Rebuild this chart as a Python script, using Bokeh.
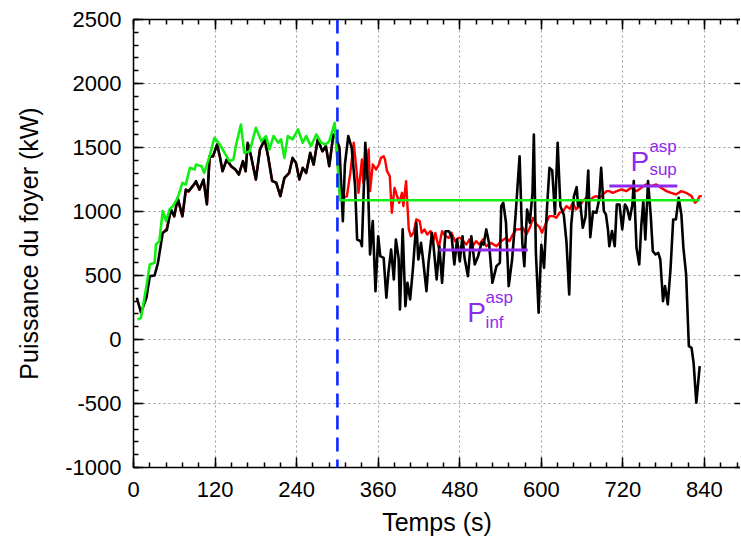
from bokeh.plotting import figure
from bokeh.models import (LinearAxis, SingleIntervalTicker, Span, Label, Range1d,
                          PrintfTickFormatter, CustomJSTickFormatter)
from bokeh.embed import file_html
from bokeh.resources import INLINE

# ---- data ----
black_t = [5, 11, 19, 24, 31, 36, 43, 49, 55, 60, 65, 72, 77, 81, 87, 92, 97, 103, 108, 112,
           117, 123, 127, 131, 137, 144, 150, 155, 161, 165, 168, 173, 180, 186, 193, 198, 204, 210, 216, 222,
           229, 234, 239, 244, 249, 254, 260, 265, 271, 278, 283, 288, 294, 298, 303, 308, 311, 316, 321, 326,
           329, 334, 336, 341, 345, 348, 352, 356, 360, 363, 368, 372, 375, 379, 383, 386, 390, 392, 396, 400,
           403, 407, 411, 416, 419, 423, 426, 431, 434, 439, 441, 446, 450, 454, 459, 464, 468, 472, 476, 480,
           484, 487, 492, 497, 502, 507, 512, 515, 519, 523, 528, 534, 539, 541, 544, 548, 552, 557, 562, 568,
           572, 575, 579, 583, 587, 589, 592, 596, 600, 604, 608, 612, 616, 620, 624, 628, 633, 637, 641, 644,
           648, 652, 654, 657, 661, 665, 669, 672, 676, 681, 685, 688, 692, 695, 698, 700, 704, 708, 711, 715,
           719, 723, 726, 730, 734, 736, 740, 744, 747, 750, 753, 757, 761, 764, 768, 772, 775, 779, 782, 786,
           790, 794, 798, 802, 806, 809, 813, 817, 821, 824, 828, 833]
black_v = [326, 209, 326, 495, 500, 599, 834, 854, 1016, 964, 1107, 964, 1172, 1159, 1198, 1237, 1172, 1250, 1055, 1432,
           1432, 1524, 1432, 1315, 1406, 1354, 1328, 1289, 1393, 1315, 1537, 1432, 1250, 1485, 1563, 1432, 1237, 1224, 1120, 1263,
           1302, 1419, 1380, 1250, 1341, 1302, 1458, 1367, 1563, 1471, 1511, 1354, 1602, 1576, 1498, 925, 1367, 1589, 1498, 1198,
           781, 768, 729, 1537, 1198, 664, 925, 378, 807, 651, 638, 326, 521, 703, 469, 781, 638, 235, 860, 261,
           443, 313, 547, 912, 625, 755, 625, 378, 599, 833, 755, 469, 729, 443, 846, 846, 807, 586, 781, 610,
           807, 638, 495, 807, 586, 651, 755, 742, 860, 755, 443, 573, 599, 1042, 1068, 912, 417, 625, 964, 1432,
           755, 573, 1016, 912, 1146, 1602, 677, 209, 740, 560, 1000, 1341, 1320, 980, 1537, 1042, 975, 760, 352, 900,
           1120, 1190, 1042, 1080, 873, 960, 1320, 800, 1000, 990, 1094, 1341, 1003, 977, 860, 729, 847, 729, 1055, 1055,
           860, 1055, 1029, 938, 1055, 1237, 716, 586, 886, 1081, 782, 1237, 964, 690, 664, 677, 625, 300, 417, 274,
           547, 938, 938, 1107, 977, 716, 508, -52, -65, -182, -494, -208]

red_t = [43, 49, 55, 60, 65, 72, 77, 81, 87, 92, 97, 103, 108, 112, 117, 123, 127, 131, 137, 144,
         150, 155, 161, 165, 168, 173, 180, 186, 193, 198, 204, 210, 216, 222, 229, 234, 239, 244, 249, 254,
         260, 265, 271, 278, 283, 288, 294, 298, 304, 308, 314, 319, 324, 328, 331, 336, 338, 342, 346, 348,
         352, 357, 361, 364, 368, 370, 373, 377, 380, 384, 387, 391, 395, 397, 401, 405, 408, 412, 416, 421,
         424, 428, 432, 437, 441, 444, 449, 454, 459, 464, 468, 473, 478, 482, 485, 490, 494, 499, 504, 509,
         514, 519, 526, 534, 541, 548, 553, 558, 563, 568, 573, 578, 583, 588, 593, 597, 601, 607, 612, 617,
         622, 627, 632, 637, 642, 646, 651, 656, 661, 666, 671, 676, 681, 686, 691, 696, 700, 705, 711, 718,
         725, 732, 740, 747, 754, 762, 769, 776, 784, 791, 798, 806, 813, 821, 826, 829, 833, 836]
red_v = [830, 870, 1010, 960, 1100, 960, 1165, 1155, 1195, 1230, 1170, 1245, 1060, 1425, 1430, 1520, 1430, 1315, 1400, 1350,
         1325, 1290, 1390, 1315, 1530, 1430, 1250, 1480, 1560, 1430, 1240, 1225, 1120, 1260, 1300, 1415, 1380, 1250, 1340, 1300,
         1455, 1365, 1560, 1470, 1510, 1355, 1600, 1570, 1094, 1107, 1120, 1302, 1537, 1328, 1146, 1406, 1224, 1276, 1485, 1159,
         1367, 1328, 1367, 1419, 1432, 1406, 1315, 1276, 990, 1185, 1133, 1068, 1146, 1042, 1237, 860, 807, 833, 938, 925,
         833, 860, 820, 846, 768, 833, 716, 846, 807, 794, 833, 768, 794, 790, 768, 742, 781, 729, 768, 742,
         781, 729, 755, 729, 768, 794, 768, 820, 860, 860, 873, 820, 873, 951, 899, 880, 834, 912, 964, 964,
         951, 990, 1003, 1042, 1020, 1068, 1016, 1040, 1081, 1107, 1080, 1110, 1120, 1107, 1133, 1159, 1159, 1146, 1159, 1172,
         1159, 1185, 1159, 1185, 1211, 1198, 1211, 1185, 1159, 1146, 1133, 1159, 1146, 1120, 1068, 1081, 1120, 1120]

green_t = [6, 11, 19, 24, 31, 33, 38, 43, 48, 53, 58, 65, 72, 77, 83, 90, 92, 100, 104, 112,
           119, 127, 134, 141, 147, 151, 158, 163, 171, 180, 188, 195, 200, 206, 213, 217, 222, 227, 234, 242,
           249, 254, 261, 269, 276, 283, 288, 296, 304, 833]
green_v = [156, 169, 417, 586, 599, 742, 768, 1003, 925, 1016, 1042, 1107, 1224, 1211, 1341, 1328, 1367, 1354, 1302, 1432,
           1576, 1524, 1458, 1393, 1406, 1524, 1680, 1458, 1471, 1654, 1550, 1589, 1485, 1589, 1537, 1563, 1419, 1589, 1563, 1641,
           1537, 1589, 1511, 1602, 1537, 1524, 1550, 1693, 1088, 1088]

p_inf_t = [450, 580]
p_inf_v = [700, 700]
p_sup_t = [700, 800]
p_sup_v = [1200, 1200]
t_switch = 300

x_ticks_step = 120
y_ticks_step = 500

FONT = "Liberation Sans"
PURPLE = "#8f2bee"

p = figure(width=740, height=544,
           x_range=Range1d(0, 893), y_range=Range1d(-1000, 2500),
           output_backend="svg", toolbar_location=None,
           min_border_left=133, min_border_right=0, min_border_top=19, min_border_bottom=77,
           x_axis_label="Temps (s)", y_axis_label="Puissance du foyer (kW)")
p.outline_line_color = None
p.background_fill_color = "white"
p.border_fill_color = "white"

blank = CustomJSTickFormatter(code="return '';")


def style_axis(ax, labels=True):
    ax.axis_line_width = 1.5
    ax.axis_line_color = "black"
    ax.major_tick_in = 10
    ax.major_tick_out = 0
    ax.minor_tick_in = 5
    ax.minor_tick_out = 0
    ax.major_tick_line_width = 1.5
    ax.minor_tick_line_width = 1.5
    ax.major_tick_line_color = "black"
    ax.minor_tick_line_color = "black"
    ax.major_label_text_font = FONT
    ax.major_label_text_font_size = "22px"
    ax.major_label_text_color = "black"
    ax.axis_label_text_font = FONT
    ax.axis_label_text_font_size = "25px"
    ax.axis_label_text_font_style = "normal"
    ax.axis_label_text_color = "black"
    if labels:
        ax.formatter = PrintfTickFormatter(format="%d")
    else:
        ax.formatter = blank


xa = p.xaxis[0]
xa.ticker = SingleIntervalTicker(interval=x_ticks_step, num_minor_ticks=5)
style_axis(xa)
xa.major_label_standoff = 14
xa.axis_label_standoff = 8

ya = p.yaxis[0]
ya.ticker = SingleIntervalTicker(interval=y_ticks_step, num_minor_ticks=5)
style_axis(ya)
ya.major_label_standoff = 12
ya.axis_label_standoff = 19

top = LinearAxis(ticker=SingleIntervalTicker(interval=x_ticks_step, num_minor_ticks=5))
style_axis(top, labels=False)
top.major_label_standoff = 0
p.add_layout(top, "above")

right = LinearAxis(ticker=SingleIntervalTicker(interval=y_ticks_step, num_minor_ticks=0))
style_axis(right, labels=False)
right.axis_line_color = None
right.major_tick_in = 6
right.minor_tick_in = 0
right.major_label_standoff = 0
p.add_layout(right, "right")

for g in (p.xgrid[0], p.ygrid[0]):
    g.grid_line_color = "#9a9a9a"
    g.grid_line_dash = "2 3"
    g.grid_line_width = 1

p.line(red_t, red_v, line_color="#ff0000", line_width=2.4, line_join="round")
p.line(black_t, black_v, line_color="black", line_width=2.6, line_join="round")
p.line(green_t, green_v, line_color="#11ee11", line_width=2.6, line_join="round")
p.line(p_inf_t, p_inf_v, line_color=PURPLE, line_width=3)
p.line(p_sup_t, p_sup_v, line_color=PURPLE, line_width=3)

p.add_layout(Span(location=t_switch, dimension="height", line_color="#0a28ff",
                  line_width=2.6, line_dash="14 8"))

def lab(x, y, text, size):
    p.add_layout(Label(x=x, y=y, text=text, text_font=FONT, text_font_size=size,
                       text_color=PURPLE, text_baseline="alphabetic", text_align="left"))

lab(491, 211, "P", "28px")
lab(518, 328, "asp", "17px")
lab(518, 133, "inf", "17px")
lab(731, 1391, "P", "28px")
lab(759, 1508, "asp", "17px")
lab(759, 1328, "sup", "17px")

open("out.html", "w").write(file_html(p, INLINE))
